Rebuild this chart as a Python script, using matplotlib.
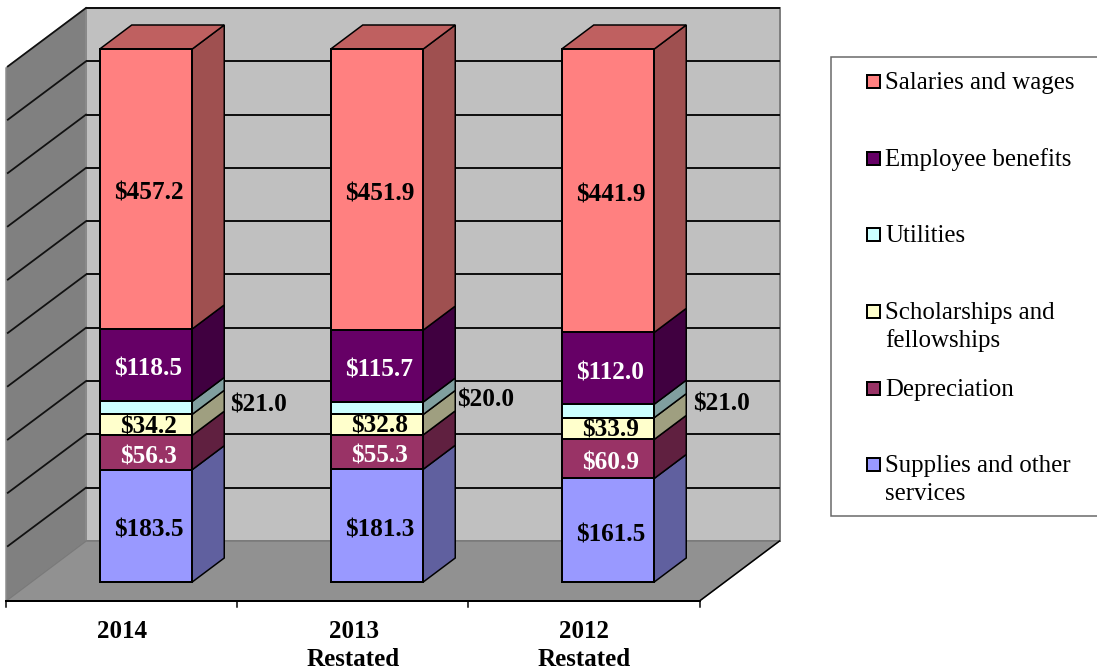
import numpy as np
import matplotlib
matplotlib.use("Agg")
import matplotlib.pyplot as plt
from matplotlib.patches import Polygon, Rectangle

plt.rcParams['font.family'] = ['Liberation Serif', 'DejaVu Serif']

# stacked bottom to top, bars are 100% stacked
years = ["2014", "2013\nRestated", "2012\nRestated"]
series = ["Supplies and other\nservices", "Depreciation", "Scholarships and\nfellowships",
          "Utilities", "Employee benefits", "Salaries and wages"]
supplies = [183.5, 181.3, 161.5]
depreciation = [56.3, 55.3, 60.9]
scholarships = [34.2, 32.8, 33.9]
utilities = [21.0, 20.0, 21.0]
benefits = [118.5, 115.7, 112.0]
salaries = [457.2, 451.9, 441.9]

colors = ["#9999FF", "#993366", "#FFFFCC", "#CCFFFF", "#660066", "#FF8080"]
label_colors = ["black", "white", "black", None, "white", "black"]
values = np.array([supplies, depreciation, scholarships, utilities, benefits, salaries])
pct = values / values.sum(axis=0) * 100

W, H = 1097, 669
PX_X = 231.0     # pixels for one category
PX_Y = 5.33      # pixels for one percent
X0, Y0 = 146.0, 582.0


def shade(c, f):
    r = matplotlib.colors.to_rgb(c)
    return (r[0] * f, r[1] * f, r[2] * f)


fig = plt.figure(figsize=(W / 100, H / 100), dpi=100)
ax = fig.add_axes([0, 0, 1, 1])
ax.set_xlim(-X0 / PX_X, (W - X0) / PX_X)
ax.set_ylim((Y0 - H) / PX_Y, Y0 / PX_Y)
ax.axis('off')

px = lambda n: n * 0.72  # line width
bar_w = 92.5 / PX_X
dx, dy = 32 / PX_X, 24 / PX_Y          # depth of a bar
wall_l, wall_r = (86 - X0) / PX_X, (779.5 - X0) / PX_X
wall_dy = 41 / PX_Y                    # back wall sits this far up from the bar plane
front_l = (6 - X0) / PX_X
front_r = (699.5 - X0) / PX_X
front_dy = -19 / PX_Y                  # front edge of the floor

# walls and floor
ax.add_patch(Polygon([(wall_l, wall_dy), (wall_r, wall_dy), (wall_r, wall_dy + 100), (wall_l, wall_dy + 100)],
                     fc="#C0C0C0", ec="#808080", lw=px(2), zorder=1))
ax.add_patch(Polygon([(front_l, front_dy), (wall_l, wall_dy), (wall_l, wall_dy + 100), (front_l, front_dy + 100)],
                     fc="#808080", ec="#8c8c8c", lw=px(1.5), zorder=1))
ax.add_patch(Polygon([(front_l, front_dy), (front_r, front_dy), (wall_r, wall_dy), (wall_l, wall_dy)],
                     fc="#919191", ec="#7a7a7a", lw=px(1.5), zorder=1))

# gridlines
for g in range(10, 101, 10):
    ax.plot([wall_l, wall_r], [wall_dy + g] * 2, color="#111111", lw=px(2), zorder=2, solid_capstyle='butt')
    ax.plot([front_l + 0.008, wall_l], [front_dy + g + 0.3, wall_dy + g], color="#111111", lw=px(1.8), zorder=2)

# floor edges and ticks
ax.plot([front_l, front_r], [front_dy, front_dy], color="black", lw=px(2), zorder=3)
ax.plot([front_r, wall_r], [front_dy, wall_dy], color="black", lw=px(1.5), zorder=3)
for i in range(4):
    t = front_l + i * (front_r - front_l) / 3
    ax.plot([t, t], [front_dy, front_dy - 6 / PX_Y], color="black", lw=px(1.5), zorder=3)

x = np.arange(len(years))
bottom = np.zeros(len(years))
for k, name in enumerate(series):
    h = pct[k]
    ax.bar(x, h, bar_w, bottom=bottom, color=colors[k], edgecolor="black", linewidth=px(2), zorder=5)
    for i in x:
        xr = i + bar_w / 2
        ax.add_patch(Polygon([(xr, bottom[i]), (xr + dx, bottom[i] + dy),
                              (xr + dx, bottom[i] + h[i] + dy), (xr, bottom[i] + h[i])],
                             fc=shade(colors[k], 0.625), ec="black", lw=px(1.5), zorder=4))
    bottom = bottom + h

# top faces
for i in x:
    xl, xr = i - bar_w / 2, i + bar_w / 2
    ax.add_patch(Polygon([(xl, 100), (xr, 100), (xr + dx, 100 + dy), (xl + dx, 100 + dy)],
                         fc=shade(colors[5], 0.75), ec="black", lw=px(1.5), zorder=4))

# value labels
util_dx = [112.5, 108.5, 113.5]
util_dy = [3, 8, 7]
label_dx = 2.4
label_dy = [4.3, 4.3, 1.8, 0, 4.3, 4.3]
bottom = np.zeros(len(years))
for k in range(len(series)):
    for i in x:
        mid = bottom[i] + pct[k][i] / 2
        txt = "$%.1f" % values[k][i]
        if label_colors[k] is None:
            ax.text(i + util_dx[i] / PX_X, mid + util_dy[i] / PX_Y, txt, color="black", fontsize=18.2,
                    fontweight='bold', ha='center', va='center', zorder=6)
        else:
            ax.text(i + label_dx / PX_X, mid - label_dy[k] / PX_Y, txt, color=label_colors[k], fontsize=18.2,
                    fontweight='bold', ha='center', va='center', zorder=6)
    bottom = bottom + pct[k]

# category labels
for i, name in enumerate(years):
    ax.text(i - 23.5 / PX_X, (Y0 - 620) / PX_Y, name, fontsize=18, fontweight='bold',
            ha='center', va='top', linespacing=1.27, zorder=6)

# legend, in plain pixels
leg = fig.add_axes([0, 0, 1, 1], facecolor='none')
leg.set_xlim(0, W)
leg.set_ylim(H, 0)
leg.axis('off')
leg.add_patch(Rectangle((831, 56.5), 300, 459.5, fc="white", ec="#666666", lw=px(1.5), clip_on=True))
legend_y = [81, 158, 234, 311, 388, 464]
for yy, k in zip(legend_y, range(5, -1, -1)):
    leg.add_patch(Rectangle((866.5, yy - 6.5), 13, 13, fc=colors[k], ec="black", lw=px(2)))
    for n, line in enumerate(series[k].split("\n")):
        leg.text(885, yy + 8 + n * 28.5, line, fontsize=17.9, ha='left', va='baseline')

fig.savefig("out.png", dpi=100)
